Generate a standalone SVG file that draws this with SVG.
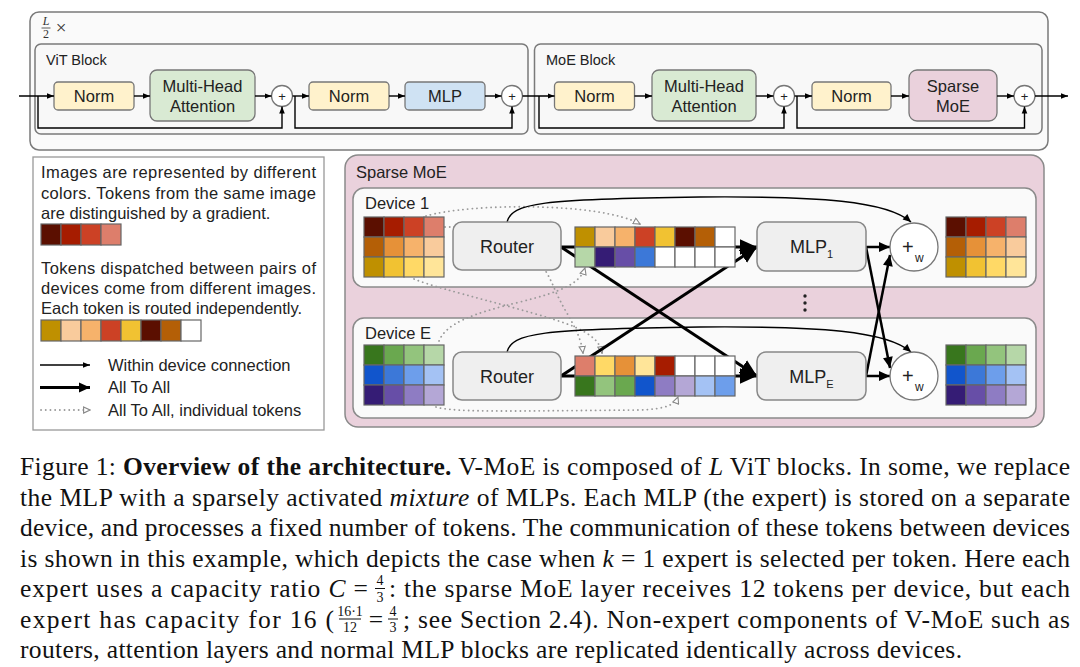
<svg xmlns="http://www.w3.org/2000/svg" width="1080" height="667" viewBox="0 0 1080 667">
<defs>
<style>
.s{font-family:"Liberation Sans",Arial,sans-serif;fill:#222}
.cap{font-family:"Liberation Serif","Times New Roman",serif;font-size:25.5px;fill:#111}
.frac{font-family:"Liberation Serif","Times New Roman",serif;font-size:14px;fill:#111;text-anchor:middle}
.outer{fill:#fafafa;stroke:#7a7a7a;stroke-width:1.5}
.blk{fill:#f8f8f8;stroke:#7a7a7a;stroke-width:1.5}
.norm{fill:#fff2cc;stroke:#777;stroke-width:1.3}
.mha{fill:#d9ead3;stroke:#777;stroke-width:1.3}
.mlp{fill:#cfe2f3;stroke:#777;stroke-width:1.3}
.smoe{fill:#ead1dc;stroke:#777;stroke-width:1.3}
.gray{fill:#efefef;stroke:#888;stroke-width:1.5}
.circ{fill:#fff;stroke:#777;stroke-width:1.3}
.cell{stroke:#666;stroke-width:1.2}
.thin{fill:none;stroke:#000;stroke-width:1.4}
.thick{fill:none;stroke:#000;stroke-width:3}
.mid{fill:none;stroke:#000;stroke-width:2.5}
.dot{fill:none;stroke:#9a9a9a;stroke-width:1.8;stroke-dasharray:0.1 4.6;stroke-linecap:round}
.t16{font-size:16.5px}
.ctr{text-anchor:middle}
</style>
<marker id="ah" viewBox="0 0 10 10" refX="10" refY="5" markerWidth="7" markerHeight="7" markerUnits="userSpaceOnUse" orient="auto"><path d="M0,1 L10,5 L0,9 z" fill="#000"/></marker>
<marker id="ahm" viewBox="0 0 10 10" refX="10" refY="5" markerWidth="9" markerHeight="8" markerUnits="userSpaceOnUse" orient="auto"><path d="M0,0.5 L10,5 L0,9.5 z" fill="#000"/></marker>
<marker id="ahc" viewBox="0 0 10 10" refX="10" refY="5" markerWidth="12" markerHeight="11" markerUnits="userSpaceOnUse" orient="auto"><path d="M0,0.5 L10,5 L0,9.5 z" fill="#000"/></marker>
<marker id="ahb" viewBox="0 0 10 10" refX="10" refY="5" markerWidth="17" markerHeight="17" markerUnits="userSpaceOnUse" orient="auto"><path d="M0,0.5 L10,5 L0,9.5 z" fill="#000"/></marker>
<marker id="ahh" viewBox="0 0 10 10" refX="9" refY="5" markerWidth="8" markerHeight="8" markerUnits="userSpaceOnUse" orient="auto"><path d="M1,1.2 L9,5 L1,8.8 z" fill="#fff" stroke="#888" stroke-width="1.4"/></marker>
<g id="gridA" class="cell">
<rect x="0" y="0" width="20" height="20" fill="#5b0f00"/><rect x="20" y="0" width="20" height="20" fill="#a61c00"/><rect x="40" y="0" width="20" height="20" fill="#cc4125"/><rect x="60" y="0" width="20" height="20" fill="#dd7e6b"/>
<rect x="0" y="20" width="20" height="20" fill="#b45f06"/><rect x="20" y="20" width="20" height="20" fill="#e69138"/><rect x="40" y="20" width="20" height="20" fill="#f6b26b"/><rect x="60" y="20" width="20" height="20" fill="#f9cb9c"/>
<rect x="0" y="40" width="20" height="20" fill="#bf9000"/><rect x="20" y="40" width="20" height="20" fill="#f1c232"/><rect x="40" y="40" width="20" height="20" fill="#ffd966"/><rect x="60" y="40" width="20" height="20" fill="#ffe599"/>
</g>
<g id="gridB" class="cell">
<rect x="0" y="0" width="20" height="20" fill="#38761d"/><rect x="20" y="0" width="20" height="20" fill="#6aa84f"/><rect x="40" y="0" width="20" height="20" fill="#93c47d"/><rect x="60" y="0" width="20" height="20" fill="#b6d7a8"/>
<rect x="0" y="20" width="20" height="20" fill="#1155cc"/><rect x="20" y="20" width="20" height="20" fill="#3c78d8"/><rect x="40" y="20" width="20" height="20" fill="#6d9eeb"/><rect x="60" y="20" width="20" height="20" fill="#a4c2f4"/>
<rect x="0" y="40" width="20" height="20" fill="#351c75"/><rect x="20" y="40" width="20" height="20" fill="#674ea7"/><rect x="40" y="40" width="20" height="20" fill="#8e7cc3"/><rect x="60" y="40" width="20" height="20" fill="#b4a7d6"/>
</g>
</defs>
<rect width="1080" height="667" fill="#fff"/>

<!-- ===== Top: L/2 x blocks ===== -->
<g id="outer-stack">
<rect class="outer" x="30" y="12" width="1018" height="138" rx="9"/>
<text x="46" y="25" font-family="Liberation Serif,serif" font-style="italic" font-size="12" text-anchor="middle" fill="#333">L</text>
<line x1="41.5" y1="28" x2="50.5" y2="28" stroke="#333" stroke-width="0.8"/>
<text x="46" y="38" font-family="Liberation Serif,serif" font-size="12" text-anchor="middle" fill="#333">2</text>
<text x="61" y="33.5" font-family="Liberation Serif,serif" font-size="19" text-anchor="middle" fill="#333">×</text>
</g>
<g id="vit-block">
<rect class="blk" x="35" y="44" width="493" height="90" rx="6"/>
<text class="s" x="46" y="65" font-size="14.5">ViT Block</text>
</g>
<g id="moe-block">
<rect class="blk" x="534.5" y="44" width="507.5" height="90" rx="6"/>
<text class="s" x="546" y="65" font-size="14.5">MoE Block</text>
</g>

<g id="vit-norm1"><rect class="norm" x="54" y="82" width="80" height="28" rx="4"/><text class="s t16 ctr" x="94" y="102">Norm</text></g>
<g id="vit-mha"><rect class="mha" x="150" y="70" width="105" height="51" rx="7"/><text class="s t16 ctr" x="202.5" y="91.5">Multi-Head</text><text class="s t16 ctr" x="202.5" y="112">Attention</text></g>
<g id="vit-add1"><circle class="circ" cx="282" cy="96" r="10.5"/><text class="s ctr" x="282" y="100.5" font-size="13">+</text></g>
<g id="vit-norm2"><rect class="norm" x="309" y="82" width="80" height="28" rx="4"/><text class="s t16 ctr" x="349" y="102">Norm</text></g>
<g id="vit-mlp"><rect class="mlp" x="405" y="82" width="80" height="28" rx="4"/><text class="s t16 ctr" x="445" y="102">MLP</text></g>
<g id="vit-add2"><circle class="circ" cx="512" cy="96" r="10.5"/><text class="s ctr" x="512" y="100.5" font-size="13">+</text></g>

<g id="moe-norm1"><rect class="norm" x="554.5" y="82" width="80" height="28" rx="4"/><text class="s t16 ctr" x="594.5" y="102">Norm</text></g>
<g id="moe-mha"><rect class="mha" x="652" y="70" width="104" height="51" rx="7"/><text class="s t16 ctr" x="704" y="91.5">Multi-Head</text><text class="s t16 ctr" x="704" y="112">Attention</text></g>
<g id="moe-add1"><circle class="circ" cx="784" cy="96" r="10.5"/><text class="s ctr" x="784" y="100.5" font-size="13">+</text></g>
<g id="moe-norm2"><rect class="norm" x="812" y="82" width="79" height="28" rx="4"/><text class="s t16 ctr" x="851.5" y="102">Norm</text></g>
<g id="moe-sparse"><rect class="smoe" x="909" y="70" width="88" height="51" rx="8"/><text class="s t16 ctr" x="953" y="91.5">Sparse</text><text class="s t16 ctr" x="953" y="112">MoE</text></g>
<g id="moe-add2"><circle class="circ" cx="1024.5" cy="96" r="10.5"/><text class="s ctr" x="1024.5" y="100.5" font-size="13">+</text></g>

<g id="top-connectors" class="thin" stroke-width="1.3">
<path d="M19,96 H54" marker-end="url(#ah)"/>
<path d="M38,96 V128 H282 V106.5" marker-end="url(#ah)"/>
<path d="M134,96 H150" marker-end="url(#ah)"/>
<path d="M255,96 H271.5" marker-end="url(#ah)"/>
<path d="M292.5,96 H309" marker-end="url(#ah)"/>
<path d="M295,96 V128 H512 V106.5" marker-end="url(#ah)"/>
<path d="M389,96 H405" marker-end="url(#ah)"/>
<path d="M485,96 H501.5" marker-end="url(#ah)"/>
<path d="M522.5,96 H554.5" marker-end="url(#ah)"/>
<path d="M539,96 V128 H784 V106.5" marker-end="url(#ah)"/>
<path d="M634.5,96 H652" marker-end="url(#ah)"/>
<path d="M756,96 H773.5" marker-end="url(#ah)"/>
<path d="M794.5,96 H812" marker-end="url(#ah)"/>
<path d="M797,96 V128 H1024.5 V106.5" marker-end="url(#ah)"/>
<path d="M891,96 H909" marker-end="url(#ah)"/>
<path d="M997,96 H1014" marker-end="url(#ah)"/>
<path d="M1035,96 H1068" marker-end="url(#ah)"/>
</g>

<!-- ===== Legend ===== -->
<g id="legend">
<rect x="33" y="157" width="291" height="273" fill="#fff" stroke="#999" stroke-width="1.3"/>
<g class="s t16">
<text x="41" y="178" textLength="275" lengthAdjust="spacing">Images are represented by different</text>
<text x="41" y="198.5" textLength="275" lengthAdjust="spacing">colors. Tokens from the same image</text>
<text x="41" y="218.5">are distinguished by a gradient.</text>
<text x="41" y="273.5" textLength="275" lengthAdjust="spacing">Tokens dispatched between pairs of</text>
<text x="41" y="293.5" textLength="275" lengthAdjust="spacing">devices come from different images.</text>
<text x="41" y="313.5">Each token is routed independently.</text>
<text x="108" y="370.5">Within device connection</text>
<text x="108" y="393">All To All</text>
<text x="108" y="415.5">All To All, individual tokens</text>
</g>
<g class="cell">
<rect x="41" y="224" width="20" height="21" fill="#5b0f00"/><rect x="61" y="224" width="20" height="21" fill="#a61c00"/><rect x="81" y="224" width="20" height="21" fill="#cc4125"/><rect x="101" y="224" width="20" height="21" fill="#dd7e6b"/>
<rect x="41" y="320" width="20" height="21" fill="#bf9000"/><rect x="61" y="320" width="20" height="21" fill="#f9cb9c"/><rect x="81" y="320" width="20" height="21" fill="#f6b26b"/><rect x="101" y="320" width="20" height="21" fill="#cc4125"/>
<rect x="121" y="320" width="20" height="21" fill="#f1c232"/><rect x="141" y="320" width="20" height="21" fill="#5b0f00"/><rect x="161" y="320" width="20" height="21" fill="#b45f06"/><rect x="181" y="320" width="20" height="21" fill="#ffffff"/>
</g>
<path class="thin" d="M40,365 H90" stroke-width="1.3" marker-end="url(#ah)"/>
<path class="thick" d="M40,387.5 H90" marker-end="url(#ahc)"/>
<path class="dot" d="M41,410 H90" stroke-width="1.5" marker-end="url(#ahh)"/>
</g>

<!-- ===== Sparse MoE ===== -->
<g id="sparse-moe">
<rect x="345" y="155" width="699" height="272" rx="13" fill="#ead1dc" stroke="#8a8a8a" stroke-width="1.5"/>
<text class="s t16" x="356" y="177.5">Sparse MoE</text>
<circle cx="805" cy="296" r="1.7" fill="#222"/><circle cx="805" cy="303" r="1.7" fill="#222"/><circle cx="805" cy="310" r="1.7" fill="#222"/>
</g>
<g id="device-1">
<rect x="353" y="188" width="683" height="99" rx="11" fill="#fafafa" stroke="#8a8a8a" stroke-width="1.5"/>
<text class="s t16" x="365" y="209">Device 1</text>
</g>
<g id="device-e">
<rect x="353" y="318" width="683" height="100" rx="11" fill="#fafafa" stroke="#8a8a8a" stroke-width="1.5"/>
<text class="s t16" x="365" y="339">Device E</text>
</g>

<g id="connectors">
<!-- dotted token paths -->
<path class="dot" d="M426,216 C470,203 600,202 640,224" marker-end="url(#ahh)"/>
<path class="dot" d="M445,227 L470,227 C520,230 542,258 555,290 C566,315 580,330 583,353" marker-end="url(#ahh)"/>
<path class="dot" d="M414,279 C440,290 530,310 570,325 C592,334 600,342 602,353" marker-end="url(#ahh)"/>
<path class="dot" d="M439,341 C446,324 470,314 520,302 C560,292 580,284 585,268" marker-end="url(#ahh)"/>
<path class="dot" d="M436,407 C450,411 480,411 520,411 L640,410 C665,409 675,405 678,397" marker-end="url(#ahh)"/>
<!-- within-device curved arrows -->
<path class="thin" d="M507,222 C512,203 540,199 700,197 C820,196 887,201 911,222" marker-end="url(#ahm)"/>
<path class="thin" d="M507,352 C512,333 540,329 700,327 C820,326 887,331 911,352" marker-end="url(#ahm)"/>
<!-- all to all -->
<path class="thick" d="M561,247 H757" marker-end="url(#ahb)"/>
<path class="thick" d="M561,247 L757,376" marker-end="url(#ahb)"/>
<path class="thick" d="M561,376 L757,247" marker-end="url(#ahb)"/>
<path class="thick" d="M561,376 H757" marker-end="url(#ahb)"/>
<path class="mid" d="M866,247 H890" marker-end="url(#ahc)"/>
<path class="mid" d="M866,247 L890,368" marker-end="url(#ahc)"/>
<path class="mid" d="M866,376 L890,255" marker-end="url(#ahc)"/>
<path class="mid" d="M866,376 H890" marker-end="url(#ahc)"/>
</g>

<g id="input-1"><use href="#gridA" x="364" y="217"/></g>
<g id="input-e"><use href="#gridB" x="364" y="345"/></g>
<g id="router-1"><rect class="gray" x="453" y="222" width="108" height="48" rx="9"/><text class="s ctr" x="507" y="253" font-size="18">Router</text></g>
<g id="router-e"><rect class="gray" x="453" y="352" width="108" height="48" rx="9"/><text class="s ctr" x="507" y="382.5" font-size="18">Router</text></g>

<g id="buffer-1" class="cell">
<rect x="575" y="227" width="20" height="20" fill="#bf9000"/><rect x="595" y="227" width="20" height="20" fill="#f9cb9c"/><rect x="615" y="227" width="20" height="20" fill="#f6b26b"/><rect x="635" y="227" width="20" height="20" fill="#cc4125"/>
<rect x="655" y="227" width="20" height="20" fill="#f1c232"/><rect x="675" y="227" width="20" height="20" fill="#5b0f00"/><rect x="695" y="227" width="20" height="20" fill="#b45f06"/><rect x="715" y="227" width="20" height="20" fill="#ffffff"/>
<rect x="575" y="247" width="20" height="20" fill="#b6d7a8"/><rect x="595" y="247" width="20" height="20" fill="#351c75"/><rect x="615" y="247" width="20" height="20" fill="#674ea7"/><rect x="635" y="247" width="20" height="20" fill="#3c78d8"/>
<rect x="655" y="247" width="20" height="20" fill="#ffffff"/><rect x="675" y="247" width="20" height="20" fill="#ffffff"/><rect x="695" y="247" width="20" height="20" fill="#ffffff"/><rect x="715" y="247" width="20" height="20" fill="#ffffff"/>
</g>
<g id="buffer-e" class="cell">
<rect x="575" y="356" width="20" height="20" fill="#dd7e6b"/><rect x="595" y="356" width="20" height="20" fill="#ffd966"/><rect x="615" y="356" width="20" height="20" fill="#e69138"/><rect x="635" y="356" width="20" height="20" fill="#ffe599"/>
<rect x="655" y="356" width="20" height="20" fill="#a61c00"/><rect x="675" y="356" width="20" height="20" fill="#ffffff"/><rect x="695" y="356" width="20" height="20" fill="#ffffff"/><rect x="715" y="356" width="20" height="20" fill="#ffffff"/>
<rect x="575" y="376" width="20" height="20" fill="#38761d"/><rect x="595" y="376" width="20" height="20" fill="#93c47d"/><rect x="615" y="376" width="20" height="20" fill="#6aa84f"/><rect x="635" y="376" width="20" height="20" fill="#1155cc"/>
<rect x="655" y="376" width="20" height="20" fill="#8e7cc3"/><rect x="675" y="376" width="20" height="20" fill="#b4a7d6"/><rect x="695" y="376" width="20" height="20" fill="#a4c2f4"/><rect x="715" y="376" width="20" height="20" fill="#6d9eeb"/>
</g>

<g id="mlp-1"><rect class="gray" x="757" y="222" width="109" height="49" rx="9"/><text class="s ctr" x="811.5" y="253" font-size="18">MLP<tspan dy="5" font-size="11">1</tspan></text></g>
<g id="mlp-e"><rect class="gray" x="757" y="352" width="109" height="48" rx="9"/><text class="s ctr" x="811.5" y="382.5" font-size="18">MLP<tspan dy="5" font-size="11">E</tspan></text></g>
<g id="combine-1"><circle class="circ" cx="914" cy="247" r="24"/><text class="s" x="902" y="254" font-size="20">+</text><text class="s" x="915" y="262" font-size="12">w</text></g>
<g id="combine-e"><circle class="circ" cx="914" cy="376" r="24"/><text class="s" x="902" y="383" font-size="20">+</text><text class="s" x="915" y="391" font-size="12">w</text></g>
<g id="output-1"><use href="#gridA" x="946" y="217"/></g>
<g id="output-e"><use href="#gridB" x="946" y="345"/></g>

<!-- ===== Caption ===== -->
<g id="caption">
<text class="cap" x="20" y="475" textLength="1050" lengthAdjust="spacing">Figure 1: <tspan font-weight="bold">Overview of the architecture.</tspan> V-MoE is composed of <tspan font-style="italic">L</tspan> ViT blocks. In some, we replace</text>
<text class="cap" x="20" y="505.5" textLength="1050" lengthAdjust="spacing">the MLP with a sparsely activated <tspan font-style="italic">mixture</tspan> of MLPs. Each MLP (the expert) is stored on a separate</text>
<text class="cap" x="20" y="536" textLength="1050" lengthAdjust="spacing">device, and processes a fixed number of tokens. The communication of these tokens between devices</text>
<text class="cap" x="20" y="566.5" textLength="1050" lengthAdjust="spacing">is shown in this example, which depicts the case when <tspan font-style="italic">k</tspan> = 1 expert is selected per token. Here each</text>
<text class="cap" x="20" y="597" textLength="348" lengthAdjust="spacing">expert uses a capacity ratio <tspan font-style="italic">C</tspan> =</text>
<text class="frac" x="380" y="585">4</text><line x1="375" y1="588.5" x2="385" y2="588.5" stroke="#111" stroke-width="1"/><text class="frac" x="380" y="601.6">3</text>
<text class="cap" x="389" y="597" textLength="681" lengthAdjust="spacing">: the sparse MoE layer receives 12 tokens per device, but each</text>
<text class="cap" x="20" y="627.5" textLength="314" lengthAdjust="spacing">expert has capacity for 16 (</text>
<text class="frac" x="350" y="615.5">16·1</text><line x1="339" y1="619" x2="361" y2="619" stroke="#111" stroke-width="1"/><text class="frac" x="350" y="632.1">12</text>
<text class="cap" x="376" y="627.5" text-anchor="middle">=</text>
<text class="frac" x="393" y="615.5">4</text><line x1="388" y1="619" x2="398" y2="619" stroke="#111" stroke-width="1"/><text class="frac" x="393" y="632.1">3</text>
<text class="cap" x="403" y="627.5" textLength="667" lengthAdjust="spacing">; see Section 2.4). Non-expert components of V-MoE such as</text>
<text class="cap" x="20" y="658" textLength="942" lengthAdjust="spacing">routers, attention layers and normal MLP blocks are replicated identically across devices.</text>
</g>
</svg>
